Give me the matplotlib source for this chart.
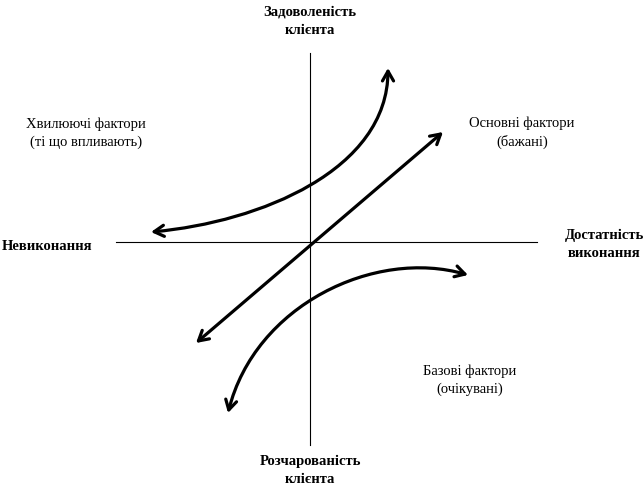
import matplotlib.pyplot as plt
from matplotlib.patches import FancyArrowPatch
from matplotlib.path import Path

# -----------------------------
# Data (image pixel coordinates, y goes down)
# each curve: start, two bezier handles, end
# -----------------------------

# attractive ("excitement") curve
exciter_x = [151, 260, 388, 388]
exciter_y = [232, 222, 170, 68]

# one-dimensional (performance) line
linear_x = [196, 443]
linear_y = [343, 132]

# must-be (basic) curve
basic_x = [228, 255, 375, 468]
basic_y = [413, 305, 248, 275]

axis_labels = ["Задоволеність\nклієнта", "Розчарованість\nклієнта",
               "Невиконання", "Достатність\nвиконання"]
zone_labels = ["Хвилюючі фактори\n(ті що впливають)",
               "Основні фактори\n(бажані)",
               "Базові фактори\n(очікувані)"]

# -----------------------------
# Drawing
# -----------------------------

plt.rcParams['font.family'] = ['Liberation Serif', 'DejaVu Serif']

fig = plt.figure(figsize=(6.44, 4.88), dpi=100)
ax = fig.add_axes([0, 0, 1, 1])
ax.set_xlim(0, 644)
ax.set_ylim(488, 0)
ax.axis("off")

# axes of the diagram
ax.plot([310, 310], [53, 445], color="black", lw=0.8)
ax.plot([116, 537], [242, 242], color="black", lw=0.8)

def double_arrow(xs, ys):
    verts = list(zip(xs, ys))
    if len(verts) == 4:
        codes = [Path.MOVETO, Path.CURVE4, Path.CURVE4, Path.CURVE4]
    else:
        codes = [Path.MOVETO, Path.LINETO]
    arr = FancyArrowPatch(path=Path(verts, codes),
                          arrowstyle="<->,head_length=7,head_width=4",
                          color="black", lw=2.3, joinstyle="round",
                          capstyle="round")
    ax.add_patch(arr)

double_arrow(exciter_x, exciter_y)
double_arrow(linear_x, linear_y)
double_arrow(basic_x, basic_y)

bold = dict(fontsize=10.5, fontweight="bold", ha="center", va="center",
            linespacing=1.5)
ax.text(310, 21, axis_labels[0], **bold)
ax.text(310, 470, axis_labels[1], **bold)
ax.text(2, 246, axis_labels[2], **dict(bold, ha="left"))
ax.text(604, 244, axis_labels[3], **bold)

reg = dict(fontsize=10.5, ha="center", va="center", linespacing=1.45)
ax.text(86, 133, zone_labels[0], **reg)
ax.text(522, 133, zone_labels[1], **reg)
ax.text(470, 380, zone_labels[2], **reg)

fig.savefig("out.png", dpi=100)
